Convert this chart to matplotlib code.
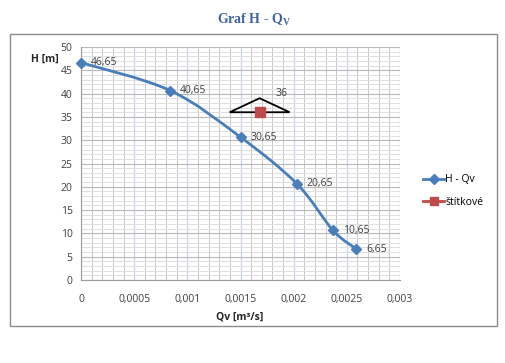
import matplotlib

matplotlib.use("Agg")
import matplotlib.pyplot as plt  # noqa: E402
from matplotlib.patches import PathPatch, Polygon, Rectangle  # noqa: E402
from matplotlib.path import Path  # noqa: E402
from matplotlib.ticker import FuncFormatter, MultipleLocator  # noqa: E402
import matplotlib.transforms as mtransforms  # noqa: E402

# data
qv = [0.0, 0.00084, 0.0015, 0.00203, 0.00237, 0.00259]
h = [46.65, 40.65, 30.65, 20.65, 10.65, 6.65]
h_labels = ["46,65", "40,65", "30,65", "20,65", "10,65", "6,65"]
stit_q = [0.00168]
stit_h = [36]
stit_labels = ["36"]

BLUE = "#4a7ebb"
RED = "#be4b48"
TITLE = "#3f64a0"
MAJ_X = "#c3d5ec"
MIN_X = "#c8c8c8"
MAJ_Y = "#b8b8b8"
MIN_Y = "#e0e0e0"
FONT = ["Open Sans", "DejaVu Sans"]

plt.rcParams["font.family"] = FONT

fig = plt.figure(figsize=(5.05, 3.63), dpi=100)
W, H = 505, 363
ax = fig.add_axes([81 / W, 1 - 280 / H, (400 - 81) / W, (280 - 47) / H])

# outer chart frame
fig.patches.append(Rectangle((10 / W, 1 - 326 / H), 487 / W, 292 / H,
                             transform=fig.transFigure, fill=False,
                             edgecolor="#8c8c8c", linewidth=1))

ax.set_xlim(0, 0.003)
ax.set_ylim(0, 50)
ax.xaxis.set_major_locator(MultipleLocator(0.0005))
ax.xaxis.set_minor_locator(MultipleLocator(0.0001))
ax.yaxis.set_major_locator(MultipleLocator(5))
ax.yaxis.set_minor_locator(MultipleLocator(1))
ax.xaxis.set_major_formatter(FuncFormatter(
    lambda v, p: "0" if abs(v) < 1e-12 else f"{v:g}".replace(".", ",")))
ax.grid(which="minor", axis="x", color=MIN_X, linewidth=0.7)
ax.grid(which="minor", axis="y", color=MIN_Y, linewidth=0.7)
ax.grid(which="major", axis="x", color=MAJ_X, linewidth=0.9)
ax.grid(which="major", axis="y", color=MAJ_Y, linewidth=0.8)
ax.set_axisbelow(True)
ax.tick_params(which="both", length=0, labelsize=7.5, colors="#404040")
ax.tick_params(axis="x", pad=10)
ax.tick_params(axis="y", pad=6)
for s in ["top", "right"]:
    ax.spines[s].set_visible(False)
for s in ["left", "bottom"]:
    ax.spines[s].set_color("#9a9a9a")
    ax.spines[s].set_linewidth(0.8)

# smoothed curve (Excel-like) built as cubic Bezier from the data points
pts = list(zip(qv, h))
verts = [pts[0]]
codes = [Path.MOVETO]
n = len(pts)
for i in range(n - 1):
    p0 = pts[max(i - 1, 0)]
    p1 = pts[i]
    p2 = pts[i + 1]
    p3 = pts[min(i + 2, n - 1)]
    c1 = (p1[0] + (p2[0] - p0[0]) / 6, p1[1] + (p2[1] - p0[1]) / 6)
    c2 = (p2[0] - (p3[0] - p1[0]) / 6, p2[1] - (p3[1] - p1[1]) / 6)
    verts += [c1, c2, p2]
    codes += [Path.CURVE4] * 3
ax.add_patch(PathPatch(Path(verts, codes), facecolor="none",
                       edgecolor=BLUE, linewidth=2, zorder=3, clip_on=False))
ax.plot(qv, h, linestyle="none", marker="D", markersize=5.5, color=BLUE,
        zorder=4, clip_on=False)
ax.plot([], [], marker="D", markersize=5, color=BLUE, linewidth=2, label="H - Qv")
for x, y, t in zip(qv, h, h_labels):
    ax.annotate(t, (x, y), xytext=(7, 0), textcoords="offset points",
                fontsize=7.5, va="center", ha="left", color="#404040", zorder=5)

# stitkove point with its triangle callout
ax.plot(stit_q, stit_h, linestyle="none", marker="s", markersize=6.5,
        color=RED, zorder=4)
ax.plot([], [], marker="s", markersize=6, color=RED, linewidth=2, label="štítkové")
for x, y, t in zip(stit_q, stit_h, stit_labels):
    tr = (mtransforms.Affine2D().scale(1 / fig.dpi) + fig.dpi_scale_trans
          + mtransforms.ScaledTranslation(x, y, ax.transData))
    ax.add_patch(Polygon([(-30, 0), (0, 14), (30, 0)], closed=True,
                         fill=False, edgecolor="black", linewidth=1.3,
                         transform=tr, zorder=3))
    ax.annotate(t, (x, y), xytext=(11.5, 13.5), textcoords="offset points",
                fontsize=7.5, va="center", ha="left", color="#404040")

fig.text(254 / W, 1 - 20 / H, "Graf H - Q$_\\mathregular{V}$", ha="center",
         va="center", fontsize=10, fontweight="bold", color=TITLE,
         family=["Liberation Serif", "DejaVu Serif"])
fig.text(45 / W, 1 - 59 / H, "H [m]", ha="center", va="center",
         fontsize=7.5, fontweight="bold", color="#262626")
fig.text(240 / W, 1 - 317 / H, "Qv [m³/s]", ha="center", va="center",
         fontsize=7.5, fontweight="bold", color="#262626")

fig.legend(loc="center left", bbox_to_anchor=(419 / W, 1 - 191 / H),
           frameon=False, fontsize=7.5, handlelength=2, handletextpad=0.1,
           labelspacing=1.1, borderaxespad=0)

fig.savefig("out.png", dpi=100)
